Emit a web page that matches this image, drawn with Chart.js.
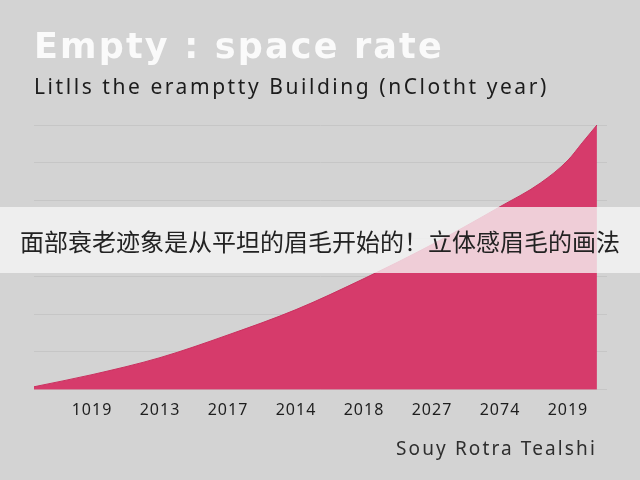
<!DOCTYPE html>
<html>
<head>
<meta charset="utf-8">
<script src="https://cdn.jsdelivr.net/npm/chart.js@4/dist/chart.umd.min.js"></script>
<style>
    html, body { margin: 0; padding: 0; background: #d3d3d3; }
    #chart { display: block; }
</style>
</head>
<body>
<canvas id="chart" width="640" height="480"></canvas>
<script>
// ---- data ----
const yearLabels = ['1019', '2013', '2017', '2014', '2018', '2027', '2074', '2019'];
// x position in label slots (0 = first label), value in grid steps
const pointPos   = [-0.853, 0, 1, 2, 3, 4, 5, 6, 6.59, 7.0, 7.21, 7.426];
const rateValues = [0.08, 0.4, 0.85, 1.45, 2.12, 2.94, 3.84, 4.84, 5.46, 6.07, 6.53, 7.0];
const yTicks = [0, 1, 2, 3, 4, 5, 6, 7];

const titleText = 'Empty : space rate';
const subtitleText = 'Litlls the eramptty Building (nClotht year)';
const footerText = 'Souy Rotra Tealshi';
const bannerText = '面部衰老迹象是从平坦的眉毛开始的！立体感眉毛的画法';

const FONT = '"Noto Sans", sans-serif';
const TITLE_FONT = '"DejaVu Sans", sans-serif';

// stretch text to a given width with letter spacing (the reference font is wider)
function spacedText(c, text, x, y, width, align) {
    c.letterSpacing = '0px';
    const w = c.measureText(text).width;
    c.letterSpacing = Math.max(0, (width - w) / text.length).toFixed(2) + 'px';
    c.textAlign = 'left';
    c.fillText(text, align === 'right' ? x - width : x, y);
    c.letterSpacing = '0px';
}

const decor = {
    id: 'decor',
    beforeDraw(chart) {
        const c = chart.ctx;
        c.save();
        c.fillStyle = '#d3d3d3';
        c.fillRect(0, 0, chart.width, chart.height);
        c.restore();
        c.letterSpacing = '1px';   // for the year ticks
    },
    afterDraw(chart) {
        const c = chart.ctx;
        c.save();
        c.textBaseline = 'alphabetic';

        c.fillStyle = '#fafafa';
        c.font = 'bold 35px ' + TITLE_FONT;
        spacedText(c, titleText, 34, 58, 410);

        c.fillStyle = '#1c1c1c';
        c.font = '21px ' + FONT;
        spacedText(c, subtitleText, 34, 94, 515);

        c.fillStyle = '#2e2e2e';
        c.font = '19px ' + FONT;
        spacedText(c, footerText, 597, 455, 201, 'right');

        // overlay banner across the chart
        c.fillStyle = 'rgba(246, 246, 246, 0.78)';
        c.fillRect(0, 207, chart.width, 66);
        c.fillStyle = '#222222';
        c.font = '24px "Noto Sans CJK SC", sans-serif';
        c.textAlign = 'center';
        c.textBaseline = 'middle';
        c.fillText(bannerText, chart.width / 2, 242);
        c.restore();
    }
};

new Chart(document.getElementById('chart'), {
    type: 'line',
    data: {
        datasets: [{
            data: pointPos.map((x, i) => ({ x, y: rateValues[i] })),
            fill: 'origin',
            backgroundColor: '#d63b6b',
            borderColor: '#c9315f',
            borderWidth: 1,
            pointRadius: 0,
            cubicInterpolationMode: 'monotone'
        }]
    },
    options: {
        responsive: false,
        animation: false,
        layout: { padding: { left: 34, right: 33, top: 125, bottom: 49 } },
        plugins: {
            legend: { display: false },
            tooltip: { enabled: false },
            title: { display: false }
        },
        scales: {
            x: {
                type: 'linear',
                min: -0.853,
                max: 7.574,
                grid: { display: false, drawTicks: false },
                border: { display: false },
                afterBuildTicks(scale) {
                    scale.ticks = yearLabels.map((_, i) => ({ value: i }));
                },
                ticks: {
                    autoSkip: false,
                    maxRotation: 0,
                    padding: 11,
                    color: '#1e1e1e',
                    font: { family: FONT, size: 16 },
                    callback: (v) => yearLabels[v]
                }
            },
            y: {
                min: yTicks[0],
                max: yTicks[yTicks.length - 1],
                afterBuildTicks(scale) {
                    scale.ticks = yTicks.map(v => ({ value: v }));
                },
                grid: { color: '#c6c6c6', lineWidth: 1, drawTicks: false },
                border: { display: false },
                ticks: { display: false }
            }
        }
    },
    plugins: [decor]
});
</script>
</body>
</html>
